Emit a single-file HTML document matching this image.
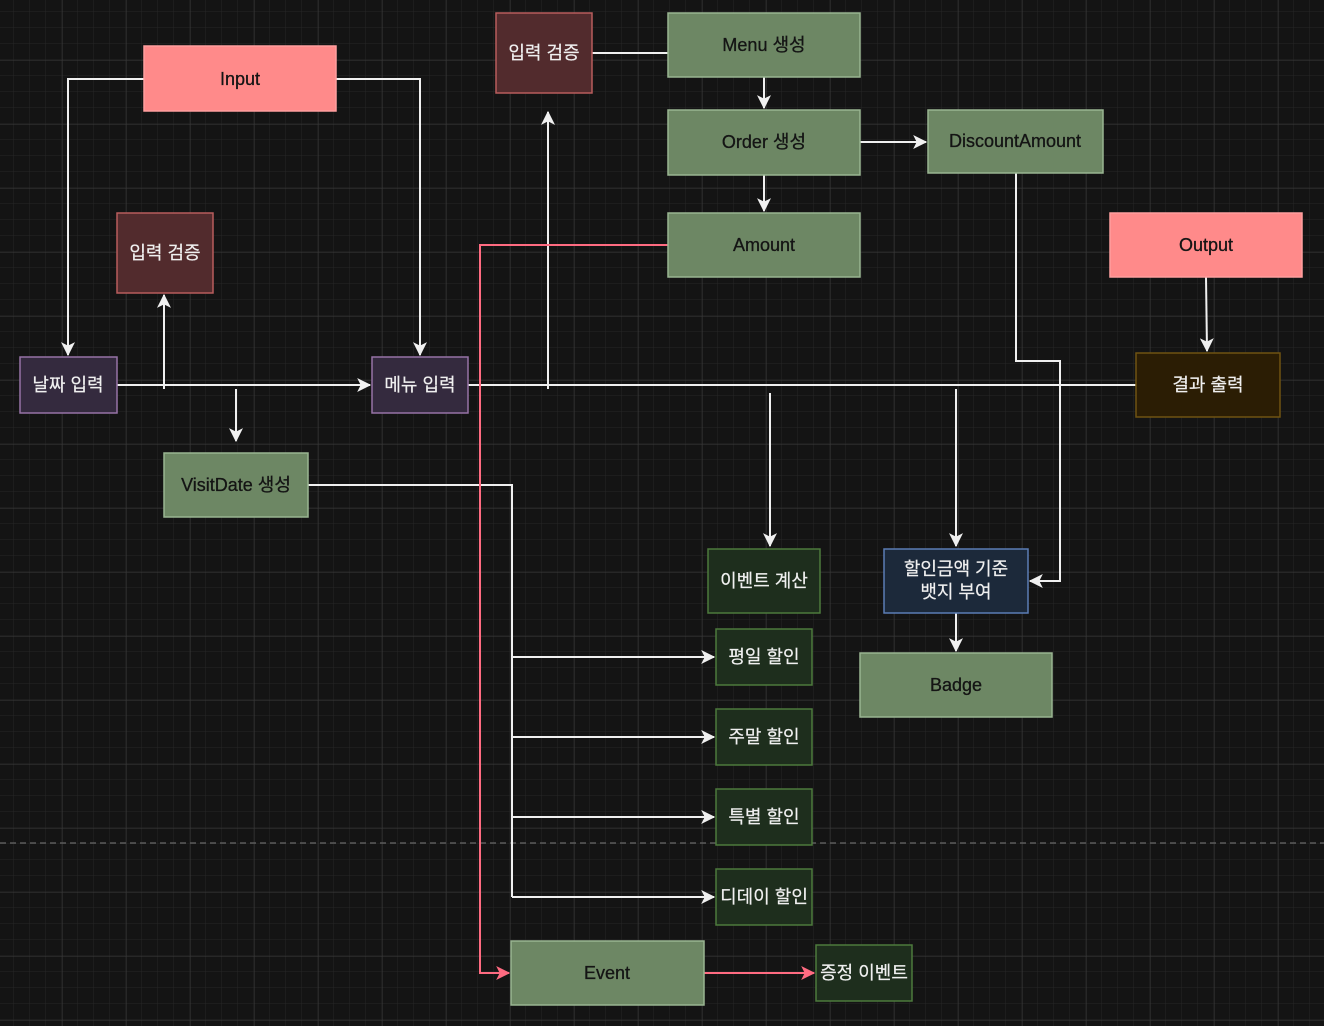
<!DOCTYPE html>
<html><head><meta charset="utf-8"><style>
html,body{margin:0;padding:0;background:#141414;}
svg{display:block;}
text{font-family:"Liberation Sans","Noto Sans CJK KR",sans-serif;font-size:18px;text-anchor:middle;dominant-baseline:central;}
</style></head><body>
<svg width="1324" height="1026" viewBox="0 0 1324 1026" xmlns="http://www.w3.org/2000/svg">
<defs>
<pattern id="minor" width="16" height="16" patternUnits="userSpaceOnUse" x="14" y="12">
<path d="M16 0V16M0 16H16" stroke="#262626" stroke-width="1" fill="none"/>
</pattern>
<pattern id="major" width="64" height="64" patternUnits="userSpaceOnUse" x="62.5" y="60.5">
<path d="M0 0V64M0 0H64" stroke="#3a3a3a" stroke-width="1" fill="none"/>
</pattern>
<marker id="aw" viewBox="0 0 12 12" refX="11" refY="6" markerWidth="14" markerHeight="14" markerUnits="userSpaceOnUse" orient="auto">
<path d="M0 0L12 6L0 12L3 6Z" fill="#f0f0f0"/>
</marker>
<marker id="ar" viewBox="0 0 12 12" refX="11" refY="6" markerWidth="14" markerHeight="14" markerUnits="userSpaceOnUse" orient="auto">
<path d="M0 0L12 6L0 12L3 6Z" fill="#ff6b81"/>
</marker>
</defs>
<rect width="1324" height="1026" fill="#141414"/>
<rect width="1324" height="1026" fill="url(#minor)"/>
<rect width="1324" height="1026" fill="url(#major)"/>
<line x1="0" y1="843" x2="1324" y2="843" stroke="#5a5a5a" stroke-width="1.5" stroke-dasharray="6,4"/>

<g fill="none" stroke="#f0f0f0" stroke-width="2">
<path d="M144 79H68V355" marker-end="url(#aw)"/>
<path d="M336 79H420V355" marker-end="url(#aw)"/>
<path d="M117 385H370" marker-end="url(#aw)"/>
<path d="M164 389V295" marker-end="url(#aw)"/>
<path d="M236 389V441" marker-end="url(#aw)"/>
<path d="M468 385H1136"/>
<path d="M548 389V112" marker-end="url(#aw)"/>
<path d="M592 53H668"/>
<path d="M764 77V108" marker-end="url(#aw)"/>
<path d="M860 142H926" marker-end="url(#aw)"/>
<path d="M764 175V211" marker-end="url(#aw)"/>
<path d="M770 393V546" marker-end="url(#aw)"/>
<path d="M956 389V546" marker-end="url(#aw)"/>
<path d="M1016 173V361H1060V581H1030" marker-end="url(#aw)"/>
<path d="M1206 277L1207 351" marker-end="url(#aw)"/>
<path d="M956 613V651" marker-end="url(#aw)"/>
<path d="M308 485H512V897"/>
<path d="M512 657H714" marker-end="url(#aw)"/>
<path d="M512 737H714" marker-end="url(#aw)"/>
<path d="M512 817H714" marker-end="url(#aw)"/>
<path d="M512 897H714" marker-end="url(#aw)"/>
</g>
<g fill="none" stroke="#ff6b81" stroke-width="2">
<path d="M668 245H480V973H509" marker-end="url(#ar)"/>
<path d="M704 973H814" marker-end="url(#ar)"/>
</g>

<g stroke-width="1.5">
<rect x="144" y="46" width="192" height="65" fill="#ff8a8a" stroke="#ff9e9e"/>
<rect x="1110" y="213" width="192" height="64" fill="#ff8a8a" stroke="#ff9e9e"/>
<rect x="496" y="13" width="96" height="80" fill="#522b2d" stroke="#b85c5c"/>
<rect x="117" y="213" width="96" height="80" fill="#522b2d" stroke="#b85c5c"/>
<rect x="668" y="13" width="192" height="64" fill="#6d8764" stroke="#9ab592"/>
<rect x="668" y="110" width="192" height="65" fill="#6d8764" stroke="#9ab592"/>
<rect x="928" y="110" width="175" height="63" fill="#6d8764" stroke="#9ab592"/>
<rect x="668" y="213" width="192" height="64" fill="#6d8764" stroke="#9ab592"/>
<rect x="164" y="453" width="144" height="64" fill="#6d8764" stroke="#9ab592"/>
<rect x="860" y="653" width="192" height="64" fill="#6d8764" stroke="#9ab592"/>
<rect x="511" y="941" width="193" height="64" fill="#6d8764" stroke="#9ab592"/>
<rect x="20" y="357" width="97" height="56" fill="#342a3e" stroke="#9673a6"/>
<rect x="372" y="357" width="96" height="56" fill="#342a3e" stroke="#9673a6"/>
<rect x="1136" y="353" width="144" height="64" fill="#2b1d04" stroke="#6f5311"/>
<rect x="708" y="549" width="112" height="64" fill="#1e2e1d" stroke="#4d7a3c"/>
<rect x="884" y="549" width="144" height="64" fill="#1c293a" stroke="#5b7db5"/>
<rect x="716" y="629" width="96" height="56" fill="#1e2e1d" stroke="#4d7a3c"/>
<rect x="716" y="709" width="96" height="56" fill="#1e2e1d" stroke="#4d7a3c"/>
<rect x="716" y="789" width="96" height="56" fill="#1e2e1d" stroke="#4d7a3c"/>
<rect x="716" y="869" width="96" height="56" fill="#1e2e1d" stroke="#4d7a3c"/>
<rect x="816" y="945" width="96" height="56" fill="#1e2e1d" stroke="#4d7a3c"/>
</g>

<g fill="#141414" stroke="#141414" stroke-width="0.3">
<text x="240" y="79">Input</text>
<text x="1206" y="245">Output</text>
<text x="764" y="45">Menu 생성</text>
<text x="764" y="142">Order 생성</text>
<text x="1015" y="141">DiscountAmount</text>
<text x="764" y="245">Amount</text>
<text x="236" y="485">VisitDate 생성</text>
<text x="956" y="685">Badge</text>
<text x="607" y="973">Event</text>
</g>
<g fill="#f0f0f0" stroke="#f0f0f0" stroke-width="0.2">
<text x="544" y="53">입력 검증</text>
<text x="165" y="253">입력 검증</text>
<text x="68" y="385">날짜 입력</text>
<text x="420" y="385">메뉴 입력</text>
<text x="1208" y="385">결과 출력</text>
<text x="764" y="581">이벤트 계산</text>
<text x="956" y="569">할인금액 기준</text>
<text x="956" y="592">뱃지 부여</text>
<text x="764" y="657">평일 할인</text>
<text x="764" y="737">주말 할인</text>
<text x="764" y="817">특별 할인</text>
<text x="764" y="897">디데이 할인</text>
<text x="864" y="973">증정 이벤트</text>
</g>
</svg>
</body></html>
